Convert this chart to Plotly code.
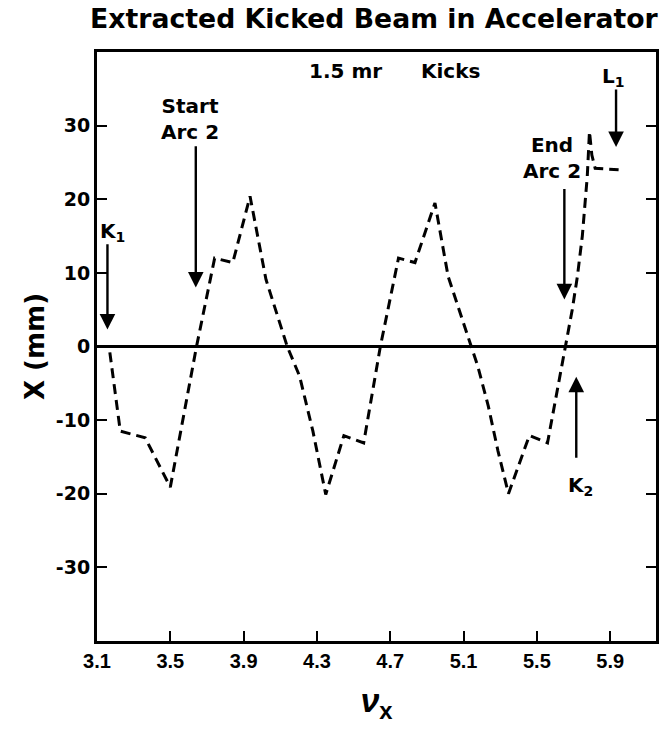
import plotly.graph_objects as go

# ---- data ----
nu_x = [3.17, 3.227, 3.363, 3.50, 3.643, 3.742, 3.841, 3.935, 4.022, 4.138,
        4.205, 4.278, 4.348, 4.447, 4.555, 4.646, 4.745, 4.835, 4.944, 5.016,
        5.142, 5.178, 5.235, 5.288, 5.345, 5.459, 5.558, 5.657, 5.693, 5.721,
        5.748, 5.775, 5.787, 5.800, 5.818, 5.946]
x_mm = [-0.8, -11.5, -12.4, -19.1, 0.0, 12.0, 11.4, 20.4, 9.1, 0.0,
        -4.0, -11.5, -20.1, -12.1, -13.1, 0.0, 12.0, 11.4, 19.5, 9.5,
        0.0, -2.7, -8.1, -14.2, -20.0, -12.1, -13.1, 0.0, 5.0, 9.5,
        15.0, 23.1, 29.2, 26.0, 24.2, 24.0]

x_tick_vals = [3.1, 3.5, 3.9, 4.3, 4.7, 5.1, 5.5, 5.9]
x_tick_text = ["3.1", "3.5", "3.9", "4.3", "4.7", "5.1", "5.5", "5.9"]
y_tick_vals = [-30, -20, -10, 0, 10, 20, 30]
y_tick_text = ["-30", "-20", "-10", "0", "10", "20", "30"]

# arrow markers (K1, Start Arc 2, End Arc 2, L1, K2): x position, tail y, tip y
arrow_x = [3.157, 3.639, 5.650, 5.932, 5.715]
arrow_tail = [14.1, 27.4, 21.6, 35.1, -15.3]
arrow_tip = [2.3, 8.0, 6.4, 27.1, -4.1]

# text labels
label_text = ["K<sub>1</sub>", "Start<br>Arc 2", "End<br>Arc 2",
              "L<sub>1</sub>", "K<sub>2</sub>", "1.5 mr", "Kicks"]
label_x = [3.186, 3.607, 5.583, 5.918, 5.739, 4.458, 5.027]
label_y = [15.6, 30.9, 25.6, 36.6, -19.0, 37.4, 37.4]

FONT = "DejaVu Sans"
FONT2 = "Liberation Sans"

fig = go.Figure()
fig.add_trace(go.Scatter(
    x=nu_x, y=x_mm, mode="lines",
    line=dict(color="black", width=3, dash="10px,6px"),
    showlegend=False, hoverinfo="skip"))

for xv, t0, t1 in zip(arrow_x, arrow_tail, arrow_tip):
    fig.add_annotation(x=xv, y=t1, ax=xv, ay=t0, xref="x", yref="y",
                       axref="x", ayref="y", showarrow=True, text="",
                       arrowhead=2, arrowsize=1.3, arrowwidth=2.4,
                       arrowcolor="black")

for t, xv, yv in zip(label_text, label_x, label_y):
    fig.add_annotation(x=xv, y=yv, xref="x", yref="y", text="<b>" + t + "</b>",
                       showarrow=False, align="center",
                       font=dict(family=FONT, size=20, color="black"))

fig.update_layout(
    width=663, height=730,
    margin=dict(l=97, r=4, t=52, b=89),
    paper_bgcolor="white", plot_bgcolor="white",
    title=dict(text="<b>Extracted Kicked Beam in Accelerator</b>",
               x=0.564, xanchor="center", y=0.975, yanchor="middle",
               font=dict(family=FONT, size=26.7, color="black")),
    font=dict(family=FONT, color="black"),
)
fig.update_xaxes(range=[3.1, 6.15], tickvals=x_tick_vals, ticktext=x_tick_text,
                 ticks="inside", ticklen=10, tickwidth=2, tickcolor="black",
                 showline=True, linewidth=3, linecolor="black", mirror=True,
                 showgrid=False, zeroline=False,
                 tickfont=dict(family=FONT2, size=20, color="black", weight="bold"),
                 title=dict(text="<b><i>ν</i><sub>x</sub></b>",
                            font=dict(family=FONT2, size=34, color="black"),
                            standoff=18))
fig.update_yaxes(range=[-40, 40], tickvals=y_tick_vals, ticktext=y_tick_text,
                 ticks="inside", ticklen=10, tickwidth=2, tickcolor="black",
                 showline=True, linewidth=3, linecolor="black", mirror="ticks",
                 showgrid=False, zeroline=True, zerolinecolor="black",
                 zerolinewidth=3,
                 tickfont=dict(family=FONT, size=19, color="black", weight="bold"),
                 title=dict(text="<b>X (mm)</b>",
                            font=dict(family=FONT, size=26, color="black"),
                            standoff=4))

fig.write_html("out.html")
